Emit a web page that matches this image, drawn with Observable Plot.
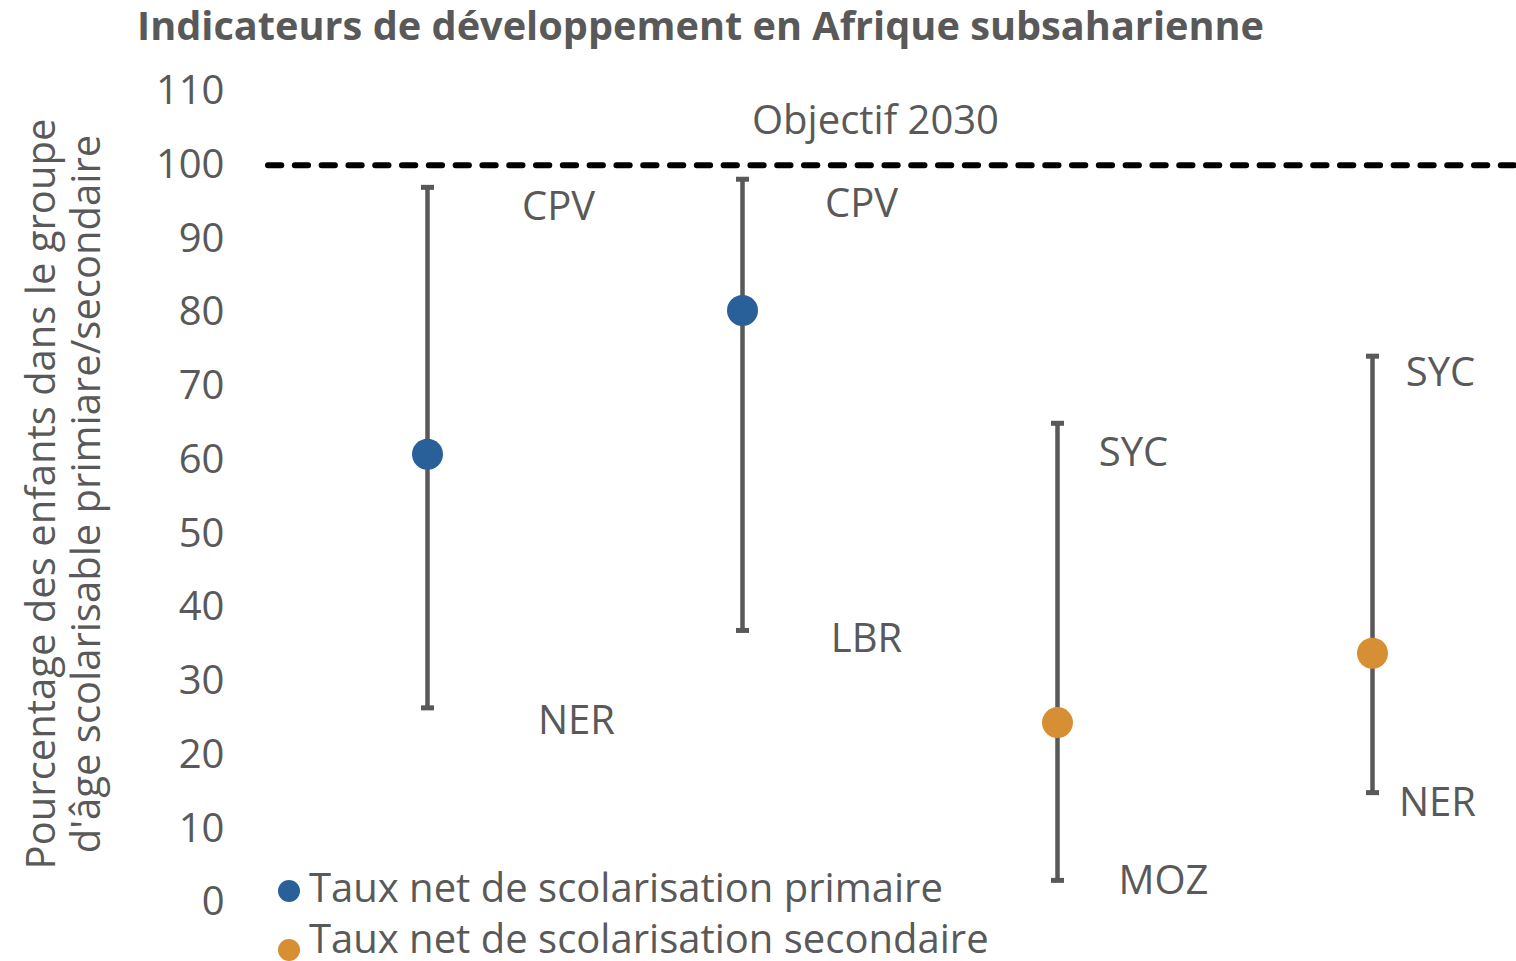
<!DOCTYPE html>
<html><head><meta charset="utf-8">
<script src="https://cdn.jsdelivr.net/npm/d3@7"></script>
<script src="https://cdn.jsdelivr.net/npm/@observablehq/plot@0.6"></script>
<style>
body{margin:0;background:#fff;}
#wrap{position:relative;width:1516px;height:961px;overflow:hidden;font-family:"Open Sans",sans-serif;color:#595959;}
#chart{position:absolute;left:0;top:0;}
#title{position:absolute;left:137px;top:3px;font-weight:bold;font-size:39.7px;line-height:44px;white-space:nowrap;}
#ytitle{position:absolute;left:62px;top:494px;width:900px;transform:translate(-50%,-50%) rotate(-90deg);text-align:center;font-size:40px;line-height:45px;white-space:nowrap;}
.leg{position:absolute;font-size:40px;line-height:44px;white-space:nowrap;}
.sw{position:absolute;width:22px;height:22px;border-radius:50%;}
</style></head>
<body><div id="wrap"><div id="chart"></div>
<div id="title"></div><div id="ytitle"></div><div id="legend"></div></div>
<script>
// ---- data ----
const categories = ["Primaire 1", "Primaire 2", "Secondaire 1", "Secondaire 2"];
const series = ["primaire", "primaire", "secondaire", "secondaire"];
const values = [60.8, 80.3, 24.4, 33.8];
const highs = [97.0, 98.1, 65.0, 74.1];
const lows = [26.4, 36.9, 3.0, 14.9];
const topLabels = ["CPV", "CPV", "SYC", "SYC"];
const bottomLabels = ["NER", "LBR", "MOZ", "NER"];
const yTicks = [0, 10, 20, 30, 40, 50, 60, 70, 80, 90, 100, 110];
const target = 100;
const targetLabel = "Objectif 2030";
const seriesNames = ["Taux net de scolarisation primaire", "Taux net de scolarisation secondaire"];
const titleText = "Indicateurs de développement en Afrique subsaharienne";
const yTitleLines = ["Pourcentage des enfants dans le groupe", "d'âge scolarisable primiare/secondaire"];

const colors = ["#2a6099", "#d68f32"];
const FONT = "'Open Sans', sans-serif";
const GRAY = "#595959";

const rows = categories.map((c, i) => ({cat: c, series: series[i], value: values[i], high: highs[i], low: lows[i]}));

// label layout offsets (px)
const topDx = [131, 119, 76, 68], topDy = [20, 25, 30, 17];
const botDx = [149, 124, 106, 65], botDy = [13, 9, 1, 11];

const cap = {draw(ctx) { ctx.rect(-6.5, -2.5, 13, 5); }};

const labelMarks = [];
rows.forEach((r, i) => {
  labelMarks.push(Plot.text([r], {x: "cat", y: "high", text: () => topLabels[i], dx: topDx[i], dy: topDy[i], fill: GRAY, fontSize: 40}));
  labelMarks.push(Plot.text([r], {x: "cat", y: "low", text: () => bottomLabels[i], dx: botDx[i], dy: botDy[i], fill: GRAY, fontSize: 40}));
});

const plot = Plot.plot({
  width: 1516, height: 961,
  marginLeft: 268, marginRight: 0, marginTop: 91, marginBottom: 59,
  style: {fontFamily: FONT, fontSize: "40px", color: GRAY, background: "transparent", overflow: "visible"},
  x: {type: "point", domain: categories, range: [426, 1373], padding: 0, axis: null},
  y: {domain: [0, 110]},
  color: {domain: ["primaire", "secondaire"], range: colors},
  marks: [
    Plot.axisY({ticks: yTicks, tickSize: 0, tickPadding: 44, label: null, fontSize: 40, fill: GRAY}),
    Plot.ruleY([target], {stroke: "#000", strokeWidth: 6, strokeDasharray: "13.3,13.5", strokeLinecap: "round"}),
    Plot.text([{t: targetLabel, y: target}], {y: "y", text: "t", dy: -44, dx: -17, fill: GRAY, fontSize: 40}),
    Plot.ruleX(rows, {x: "cat", y1: "low", y2: "high", stroke: GRAY, strokeWidth: 4.5}),
    Plot.dot(rows, {x: "cat", y: "high", symbol: cap, fill: GRAY, r: 5}),
    Plot.dot(rows, {x: "cat", y: "low", symbol: cap, fill: GRAY, r: 5}),
    Plot.dot(rows, {x: "cat", y: "value", fill: "series", r: 15.5}),
    ...labelMarks
  ]
});
document.getElementById("chart").appendChild(plot);

document.getElementById("title").textContent = titleText;
document.getElementById("ytitle").innerHTML = yTitleLines.map(l => `<div>${l}</div>`).join("");
const leg = document.getElementById("legend");
const legPos = [{sx: 278, sy: 880, tx: 309, ty: 865}, {sx: 278, sy: 939, tx: 309, ty: 916}];
seriesNames.forEach((n, i) => {
  const p = legPos[i];
  leg.insertAdjacentHTML("beforeend", `<div class="sw" style="left:${p.sx}px;top:${p.sy}px;background:${colors[i]}"></div><div class="leg" style="left:${p.tx}px;top:${p.ty}px">${n}</div>`);
});
</script></body></html>
